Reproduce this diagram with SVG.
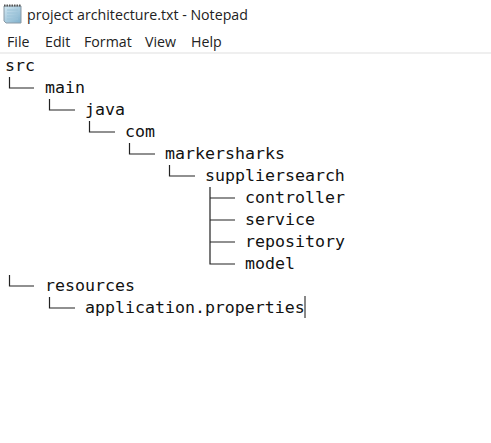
<svg xmlns="http://www.w3.org/2000/svg" width="491" height="443" viewBox="0 0 491 443">
<defs>
<linearGradient id="pg" x1="0" y1="0" x2="1" y2="1"><stop offset="0" stop-color="#d3e8f2"/><stop offset="1" stop-color="#7fb0cc"/></linearGradient>
</defs>
<style>
.m{font-family:"DejaVu Sans Mono","Liberation Mono",monospace;font-size:16.6px;fill:#111}
.u{font-family:"Open Sans","Noto Sans",sans-serif;font-size:14.2px;fill:#222}
.c{fill:none;stroke:#222;stroke-width:1.2}
</style>
<rect width="491" height="443" fill="#fff"/>
<g id="chrome">
<path d="M4 6h17v17H6l-2-2z" fill="url(#pg)" stroke="#8a9aa6"/>
<path d="M4 5.5h17" stroke="#555" stroke-width="2" stroke-dasharray="1.5 1"/>
<path d="M7 10h11M7 13h11M7 16h11M7 19h11" stroke="#9cc3d8" stroke-width="1"/>
<text class="u" x="27" y="20">project architecture.txt - Notepad</text>
<text class="u" x="7" y="47">File</text>
<text class="u" x="45" y="47">Edit</text>
<text class="u" x="84" y="47">Format</text>
<text class="u" x="145" y="47">View</text>
<text class="u" x="191" y="47">Help</text>
<rect x="0" y="52" width="491" height="2" fill="#efefef"/>
</g>
<g id="connectors">
<path class="c" d="M9.5 77V88H34"/>
<path class="c" d="M49.5 99V110H75"/>
<path class="c" d="M89.5 121V132H115"/>
<path class="c" d="M129.5 143V154H155"/>
<path class="c" d="M169.5 165V176H195"/>
<path class="c" d="M210 187V264H235M210 198H235M210 220H235M210 242H235"/>
<path class="c" d="M9.5 275V286H34"/>
<path class="c" d="M49.5 297V308H75"/>
</g>
<g id="src"><text class="m" x="5" y="71">src</text></g>
<g id="main"><text class="m" x="45" y="93">main</text></g>
<g id="java"><text class="m" x="85" y="115">java</text></g>
<g id="com"><text class="m" x="125" y="137">com</text></g>
<g id="markersharks"><text class="m" x="165" y="159">markersharks</text></g>
<g id="suppliersearch"><text class="m" x="205" y="181">suppliersearch</text></g>
<g id="controller"><text class="m" x="245" y="203">controller</text></g>
<g id="service"><text class="m" x="245" y="225">service</text></g>
<g id="repository"><text class="m" x="245" y="247">repository</text></g>
<g id="model"><text class="m" x="245" y="269">model</text></g>
<g id="resources"><text class="m" x="45" y="291">resources</text></g>
<g id="application"><text class="m" x="85" y="313">application.properties</text></g>
<path d="M305 296V318" stroke="#111" stroke-width="1"/>
</svg>
